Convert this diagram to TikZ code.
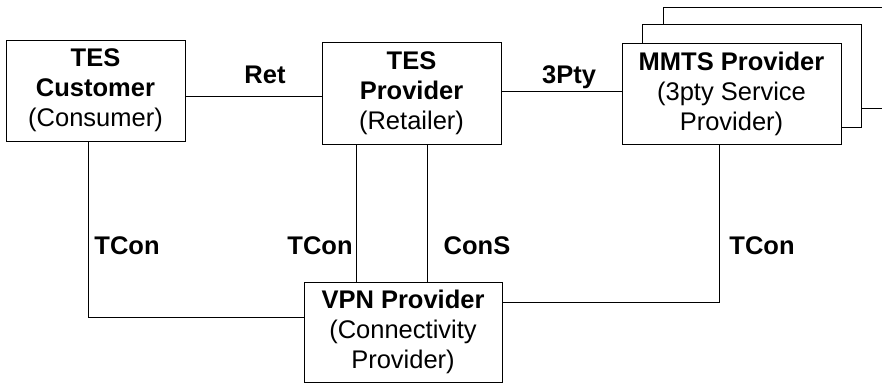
\documentclass[tikz,border=0pt]{standalone}
\usepackage{fontspec}
\setmainfont{Liberation Sans}
\begin{document}
\begin{tikzpicture}[x=1pt,y=-1pt,
  box/.style={draw=black,line width=1pt,fill=white,inner sep=0pt,align=center,
    font=\fontsize{25.5}{30}\selectfont},
  conn/.style={draw=black,line width=1pt},
  lbl/.style={anchor=base,inner sep=0pt,font=\fontsize{25.5}{30}\selectfont\bfseries}]
\clip (0,0) rectangle (882,383);
\fill[white] (0,0) rectangle (882,383);
% stacked MMTS boxes (back to front)
\node[box,minimum width=240pt,minimum height=101pt] (mmts3) at (783,57.5) {};
\node[box,minimum width=219pt,minimum height=103pt] (mmts2) at (751.5,75.5) {};
\node[box,minimum width=219pt,minimum height=101pt] (mmts) at (731.5,93.5)
  {\textbf{MMTS Provider}\\(3pty Service\\Provider)};
\node[box,minimum width=179pt,minimum height=101pt] (cust) at (95.5,90.5)
  {\textbf{TES}\\\textbf{Customer}\\(Consumer)};
\node[box,minimum width=179pt,minimum height=102pt] (prov) at (411.5,93)
  {\textbf{TES}\\\textbf{Provider}\\(Retailer)};
\node[box,minimum width=198pt,minimum height=100pt] (vpn) at (403,332)
  {\textbf{VPN Provider}\\(Connectivity\\Provider)};
% connectors
\draw[conn] (cust.east |- 0,96) -- (prov.west |- 0,96);
\draw[conn] (prov.east |- 0,91) -- (mmts.west |- 0,91);
\draw[conn] (cust.south -| 88,0) |- (vpn.west |- 0,317);
\draw[conn] (prov.south -| 356,0) -- (vpn.north -| 356,0);
\draw[conn] (prov.south -| 427,0) -- (vpn.north -| 427,0);
\draw[conn] (mmts.south -| 719,0) |- (vpn.east |- 0,302);
% labels
\node[lbl] (lret) at (265,83) {Ret};
\node[lbl] (l3p) at (569,83) {3Pty};
\node[lbl] (ltc1) at (127,254) {TCon};
\node[lbl] (ltc2) at (320,254) {TCon};
\node[lbl] (lcons) at (477,254) {ConS};
\node[lbl] (ltc3) at (762,254) {TCon};
\end{tikzpicture}
\end{document}
